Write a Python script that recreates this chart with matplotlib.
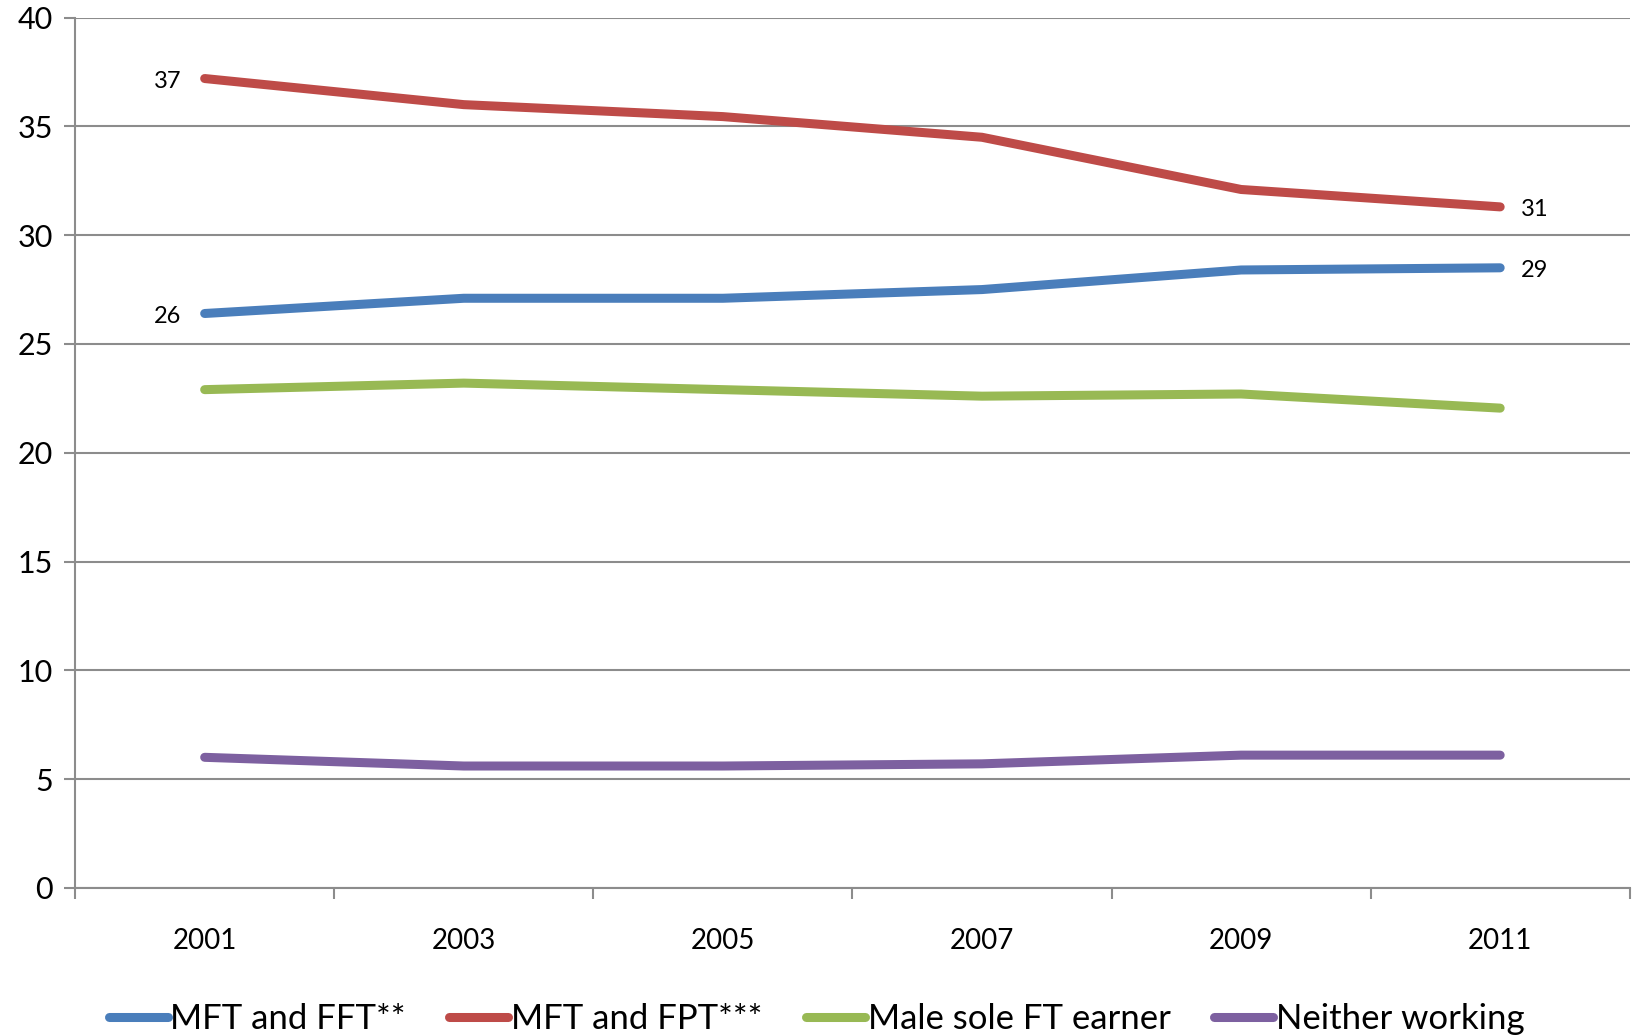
import matplotlib
matplotlib.use("Agg")
import matplotlib.pyplot as plt
import numpy as np

years = ["2001", "2003", "2005", "2007", "2009", "2011"]
mft_fft = [26.4, 27.1, 27.1, 27.5, 28.4, 28.5]
mft_fpt = [37.2, 36.0, 35.45, 34.5, 32.1, 31.3]
male_sole = [22.9, 23.2, 22.9, 22.6, 22.7, 22.05]
neither = [6.0, 5.6, 5.6, 5.7, 6.1, 6.1]

series = [
    ("MFT and FFT**", mft_fft, "#4A7EBB"),
    ("MFT and FPT***", mft_fpt, "#BE4B48"),
    ("Male sole FT earner", male_sole, "#98B954"),
    ("Neither working", neither, "#7D60A0"),
]

font = ["Lato", "DejaVu Sans"]
grid_col = "#8C8C8C"

fig = plt.figure(figsize=(16.33, 10.36), dpi=100)
ax = fig.add_axes([0.046, 0.143, 0.952, 0.840])

x = np.arange(len(years))
for name, vals, col in series:
    ax.plot(x, vals, color=col, lw=6.5, solid_capstyle="round",
            solid_joinstyle="round", label=name)

# end labels for the two top series
for vals in (mft_fft, mft_fpt):
    ax.annotate(str(int(vals[0] + 0.5)), (x[0], vals[0]), xytext=(-17, -2),
                textcoords="offset points", ha="right", va="center",
                fontsize=17, family=font)
    ax.annotate(str(int(vals[-1] + 0.5)), (x[-1], vals[-1]), xytext=(15, -2),
                textcoords="offset points", ha="left", va="center",
                fontsize=17, family=font)

ax.set_xlim(-0.5, len(years) - 0.5)
ax.set_ylim(0, 40)
ax.set_yticks(range(0, 41, 5))
ax.set_xticks(x)
ax.set_xticklabels(years, family=font, fontsize=20)
ax.set_xticks(np.arange(-0.5, len(years), 1.0), minor=True)
for lab in ax.get_yticklabels():
    lab.set_family(font)
    lab.set_fontsize(22)

ax.tick_params(axis="x", which="major", length=0, pad=29)
ax.tick_params(axis="x", which="minor", length=8, width=1.5, color=grid_col, direction="out")
ax.tick_params(axis="y", length=8, width=1.5, color=grid_col, direction="out", pad=8)

ax.grid(axis="y", color=grid_col, lw=1.5)
ax.set_axisbelow(True)
for s in ("top", "right"):
    ax.spines[s].set_visible(False)
for s in ("left", "bottom"):
    ax.spines[s].set_color(grid_col)
    ax.spines[s].set_linewidth(1.5)

fig.legend(loc="lower center", bbox_to_anchor=(0.5, -0.029), ncol=4, frameon=False,
           prop={"family": font, "size": 25}, handlelength=1.7, handletextpad=0.08,
           columnspacing=1.25)

fig.savefig("out.png", dpi=100)
